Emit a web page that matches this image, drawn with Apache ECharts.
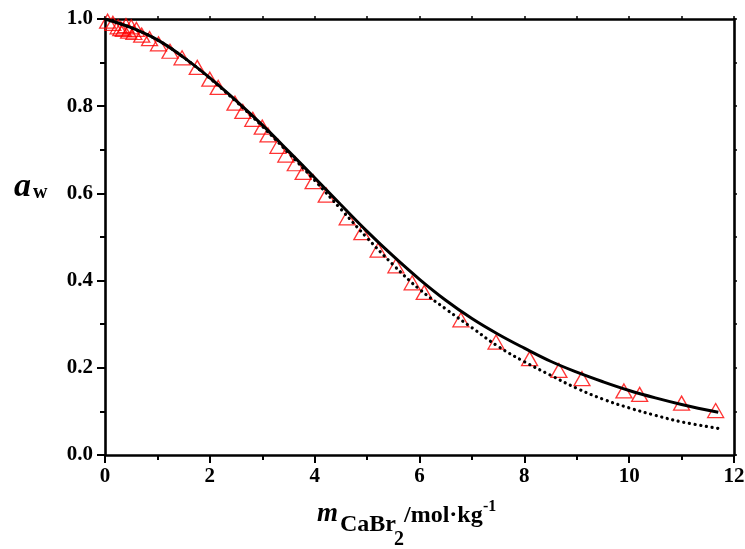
<!DOCTYPE html>
<html>
<head>
<meta charset="utf-8">
<script src="https://cdn.jsdelivr.net/npm/echarts@6/dist/echarts.min.js"></script>
<style>
html,body{margin:0;padding:0;background:#fff;}
#chart{width:745px;height:549px;}
</style>
</head>
<body>
<div id="chart"></div>
<script>
// Experimental points (triangles)
var triX = [0.05, 0.15, 0.25, 0.3, 0.35, 0.4, 0.45, 0.5, 0.55, 0.6, 0.7, 0.85, 1.02, 1.24, 1.47, 1.76, 2.0, 2.16, 2.48, 2.63, 2.82, 3.0, 3.11, 3.3, 3.45, 3.63, 3.78, 3.97, 4.22, 4.62, 4.9, 5.21, 5.55, 5.86, 6.09, 6.79, 7.46, 8.1, 8.66, 9.1, 9.9, 10.2, 11.0, 11.65];
var triY = [0.995, 0.99, 0.982, 0.978, 0.976, 0.985, 0.972, 0.982, 0.969, 0.976, 0.963, 0.955, 0.943, 0.926, 0.911, 0.889, 0.862, 0.843, 0.807, 0.788, 0.77, 0.752, 0.734, 0.708, 0.688, 0.668, 0.648, 0.627, 0.596, 0.544, 0.51, 0.47, 0.434, 0.395, 0.373, 0.31, 0.259, 0.221, 0.194, 0.175, 0.147, 0.139, 0.119, 0.102];
// Model curves
var fitX = [0, 0.5, 1, 1.5, 2, 2.5, 3, 3.5, 4, 4.5, 5, 5.5, 6, 6.5, 7, 7.5, 8, 8.5, 9, 9.5, 10, 10.5, 11, 11.7];
var solidY = [1.0, 0.98, 0.952, 0.912, 0.865, 0.813, 0.757, 0.697, 0.636, 0.574, 0.513, 0.456, 0.403, 0.355, 0.313, 0.277, 0.245, 0.215, 0.19, 0.168, 0.148, 0.131, 0.116, 0.098];
var dottedY = [1.0, 0.98, 0.952, 0.912, 0.864, 0.811, 0.754, 0.693, 0.63, 0.564, 0.498, 0.436, 0.38, 0.335, 0.292, 0.249, 0.214, 0.183, 0.153, 0.128, 0.108, 0.091, 0.076, 0.061];
// Axis ranges
var xRange = [0, 12];
var yRange = [0, 1];

function zip(a, b) { return a.map(function (v, i) { return [v, b[i]]; }); }

var FONT = '"Liberation Serif", "Times New Roman", serif';
var chart = echarts.init(document.getElementById('chart'), null, {renderer: 'canvas'});

var axisLineStyle = {color: '#000', width: 2.6};
var option = {
  animation: false,
  backgroundColor: '#fff',
  grid: {left: 105, right: 11, top: 19, bottom: 94, containLabel: false, outerBoundsMode: 'none'},
  xAxis: [{
    type: 'value', position: 'bottom', min: xRange[0], max: xRange[1], interval: 2,
    axisLine: {show: true, onZero: false, lineStyle: axisLineStyle},
    axisTick: {show: true, inside: false, length: 8, lineStyle: {color: '#000', width: 2}},
    minorTick: {show: true, splitNumber: 2, length: 5, lineStyle: {color: '#000', width: 2}},
    splitLine: {show: false}, minorSplitLine: {show: false},
    axisLabel: {margin: 11, color: '#000', fontFamily: FONT, fontWeight: 'bold', fontSize: 21}
  }, {
    type: 'value', position: 'top', min: xRange[0], max: xRange[1], interval: 1,
    axisLine: {show: true, onZero: false, lineStyle: axisLineStyle},
    axisTick: {show: true, inside: false, length: 3, lineStyle: {color: '#000', width: 1.5}},
    splitLine: {show: false}, axisLabel: {show: false}
  }],
  yAxis: [{
    type: 'value', position: 'left', min: yRange[0], max: yRange[1], interval: 0.2,
    axisLine: {show: true, onZero: false, lineStyle: axisLineStyle},
    axisTick: {show: true, inside: false, length: 8, lineStyle: {color: '#000', width: 2}},
    minorTick: {show: true, splitNumber: 2, length: 5, lineStyle: {color: '#000', width: 2}},
    splitLine: {show: false}, minorSplitLine: {show: false},
    axisLabel: {margin: 12, color: '#000', fontFamily: FONT, fontWeight: 'bold', fontSize: 21,
      formatter: function (v) { return v.toFixed(1); }}
  }, {
    type: 'value', position: 'right', min: yRange[0], max: yRange[1], interval: 0.1,
    axisLine: {show: true, onZero: false, lineStyle: axisLineStyle},
    axisTick: {show: true, inside: false, length: 3, lineStyle: {color: '#000', width: 1.5}},
    splitLine: {show: false}, axisLabel: {show: false}
  }],
  series: [{
    type: 'scatter', xAxisIndex: 0, yAxisIndex: 0, z: 2,
    data: zip(triX, triY),
    symbol: 'triangle', symbolSize: [16, 14],
    itemStyle: {color: 'rgba(255,255,255,0)', borderColor: '#ff0000', borderWidth: 1.3}
  }, {
    type: 'line', xAxisIndex: 0, yAxisIndex: 0, z: 3,
    data: zip(fitX, dottedY), showSymbol: false, smooth: 0.4,
    lineStyle: {color: '#000', width: 3.2, type: [0.1, 5.6], cap: 'round'}
  }, {
    type: 'line', xAxisIndex: 0, yAxisIndex: 0, z: 4,
    data: zip(fitX, solidY), showSymbol: false, smooth: 0.4,
    lineStyle: {color: '#000', width: 3}
  }],
  graphic: [
    {type: 'text', left: 14, top: 170, style: {text: 'a', font: 'italic bold 34px ' + FONT, fill: '#000'}},
    {type: 'text', left: 33, top: 183, style: {text: 'w', font: 'bold 20px ' + FONT, fill: '#000'}},
    {type: 'text', left: 317, top: 501, style: {text: 'm', font: 'italic bold 27px ' + FONT, fill: '#000'}},
    {type: 'text', left: 340, top: 513, style: {text: 'CaBr', font: 'bold 24px ' + FONT, fill: '#000'}},
    {type: 'text', left: 394, top: 530, style: {text: '2', font: 'bold 20px ' + FONT, fill: '#000'}},
    {type: 'text', left: 404, top: 504, style: {text: '/mol\u00b7kg', font: 'bold 24px ' + FONT, fill: '#000'}},
    {type: 'text', left: 483, top: 499, style: {text: '-1', font: 'bold 16px ' + FONT, fill: '#000'}}
  ]
};
chart.setOption(option);
</script>
</body>
</html>
